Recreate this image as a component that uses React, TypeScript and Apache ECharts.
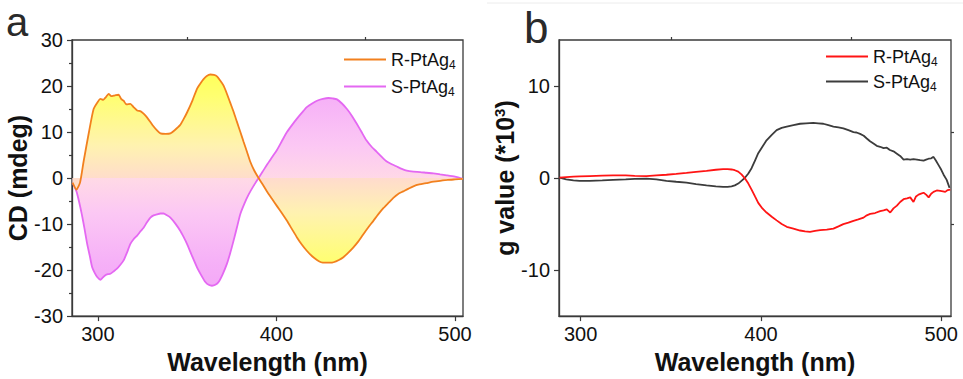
import React, { useEffect, useRef } from 'react';
import * as echarts from 'echarts';

// ---------- Panel a : CD spectra ----------
const cdWaveR = [285.8,288,290,292,295,297.6,300,301.4,303,304.5,306,307.5,308.8,310,311.6,313,314.4,316,318.2,320,322,324,325.6,327.5,329.4,331,333,335,338,340.6,343,346,348,350,353,355.5,357.5,359.2,361,363,365,366.7,368.5,370.4,372,374,376,377.9,379.8,381.6,383.5,385.3,387.5,390,392.5,394.7,397.5,400.3,403,405.9,408.7,411.5,414.3,417,420,422.7,425,427.3,430,432,435,437.5,440,443,446,448.7,451.5,454.3,457,460,463,465.5,468,471,474,476.7,480,484,488,491.7,496,500,504.4];
const cdR = [-1.0,-2.5,-1.0,3.6,10,15,16.6,17.2,17.0,17.6,18.3,17.8,17.9,18.0,18.1,17.2,16.8,16.0,16.1,15.4,14.7,14.5,14.0,13.2,12.2,11.3,10.4,9.7,9.6,9.7,10.4,11.5,12.8,14.3,16.9,19.4,20.6,21.5,22.2,22.5,22.4,22.1,21.2,20.1,18.6,16.5,14.4,12.2,10,7.9,5.7,3.6,1.7,0,-1.5,-2.9,-4.5,-6.1,-7.6,-9.3,-11.1,-12.9,-14.5,-15.8,-17.0,-17.8,-18.3,-18.4,-18.4,-18.3,-17.8,-17.2,-16.3,-15.1,-13.7,-12.2,-10.7,-9.3,-7.9,-6.5,-5.3,-4.3,-3.5,-2.9,-2.3,-1.8,-1.4,-1.1,-0.8,-0.6,-0.4,-0.3,-0.2];

const cdWaveS = [285.8,288,289.5,291,292.5,294,295.5,296.8,298.2,299.6,301.4,302.8,304.2,305.6,307,308.8,310.7,312.5,314.4,316.3,318.2,320,322,323.8,325.6,327.5,329.4,331.2,333.1,335,336.8,338.7,340.6,343.4,346.2,348,349.9,352.7,355.5,358,360.2,362,363.9,365.8,367.6,370,372.3,374.2,376,377.9,379.7,382,384.4,387.2,390,392.3,394.7,397.5,400.3,403,405.9,408.7,411.5,414.3,417,420,422.7,426,429.2,431.5,433.9,436.7,439.5,442.3,445,447.7,450.4,453.3,456.2,459,461.8,464.6,467.4,470.2,473,476.7,480.5,484,487.9,491.7,495.4,500,504.4];
const cdS = [-1.0,-2.9,-5.2,-7.9,-11,-14.3,-17,-19.4,-20.6,-21.5,-22.1,-21.6,-21.1,-20.9,-20.8,-20.3,-19.7,-18.9,-17.9,-16.2,-14.3,-13.3,-12.5,-11.6,-10.8,-9.6,-8.6,-8.1,-7.9,-7.7,-7.7,-8.1,-8.6,-9.9,-11.5,-12.8,-14.3,-16.9,-19.4,-21.2,-22.6,-23.2,-23.4,-23.2,-22.6,-20.8,-18.6,-16.2,-13.6,-10.7,-7.9,-5.6,-3.6,-1.7,0,1.4,2.9,4.5,6.1,8.0,10,11.5,12.9,14.2,15.4,16.2,16.8,17.2,17.4,17.3,17.1,16.2,15,13.5,11.8,10,8.2,6.8,5.7,4.6,3.6,3.0,2.5,2.0,1.6,1.4,1.3,1.15,1.0,0.8,0.6,0.3,-0.2];

// ---------- Panel b : g value ----------
const gWaveS = [288.3,292,296,299.4,305,312,318,325,330,336.5,342,347.6,353,358.7,364,369.8,375,379,381.5,383.7,385.5,387.4,389.2,391,393,394.8,396.7,398.5,400.8,403.1,406,408.7,411.5,414.3,418,421.7,425,429,431.8,434.6,437.4,440.2,443,445.7,448.5,451.3,453,455,457,458.7,460.5,462.4,464.2,466.1,468,469.8,471.5,473.5,475.4,477.2,479.1,481,482.8,484.6,486.5,488.3,490.2,491.6,493,494.4,495.7,497,498.5,500,501.3,503,504.6];
const gS = [0.05,-0.15,-0.25,-0.3,-0.3,-0.25,-0.2,-0.15,-0.1,-0.07,-0.15,-0.3,-0.4,-0.5,-0.65,-0.8,-0.9,-0.96,-0.95,-0.9,-0.8,-0.6,-0.3,0,0.5,1.07,1.9,2.7,3.4,4.1,4.7,5.2,5.45,5.6,5.75,5.9,5.95,6.0,5.95,5.9,5.75,5.6,5.5,5.4,5.2,5.0,4.95,4.8,4.6,4.3,4.0,3.75,3.5,3.4,3.25,3.3,3.05,2.9,2.65,2.4,2.0,2.05,2.0,2.05,2.0,1.95,1.9,2.0,2.1,2.15,2.3,1.9,1.4,0.9,0.36,-0.2,-1.07];

const gWaveR = [288.3,292,296,299.4,305,312,318,325,330,336.5,342,347.6,353,358.7,364,369.8,375,379,381.5,383.7,385.5,387.4,389.2,391,393,394.8,396.7,398.5,400.8,403.1,406,408.7,411.5,414.3,418,421.7,424.5,427.2,430,432.8,436.5,440.2,443,445.7,448.5,451.3,454,456.9,458.7,460.6,463.3,466.1,468,469.8,471.7,473.5,475.4,477.2,479.1,481,482.8,484.6,486,487.4,488.8,490.2,491.6,493,494.4,495.7,497.5,499.4,501,502.2,503.6,505];
const gR = [0.05,0.1,0.15,0.18,0.22,0.26,0.29,0.28,0.24,0.2,0.28,0.36,0.46,0.57,0.68,0.79,0.9,0.96,0.96,0.93,0.85,0.7,0.4,0,-0.6,-1.25,-2.0,-2.7,-3.3,-3.75,-4.2,-4.6,-5.0,-5.3,-5.5,-5.7,-5.8,-5.85,-5.75,-5.65,-5.6,-5.5,-5.25,-5.0,-4.85,-4.65,-4.5,-4.3,-4.05,-3.9,-3.8,-3.6,-3.5,-3.4,-3.75,-3.3,-3.0,-2.6,-2.3,-2.2,-2.1,-2.6,-2.0,-1.8,-1.7,-1.6,-1.8,-2.1,-1.7,-1.5,-1.35,-1.4,-1.45,-1.5,-1.3,-1.25];

const xLabelValues = [300, 400, 500];
const xMinorValues = [350, 450];
const gLabelValues = [-10, 0, 10];
const gMinorValues = [-5, 5];
const seriesNames = ['R-PtAg4', 'S-PtAg4'];

const zip = (xs: number[], ys: number[]) => xs.map((x, i) => [x, ys[i]]);

const FONT = 'Arial, "Liberation Sans", sans-serif';
const AXIS_COLOR = '#3a3a3a';

export default function App() {
  const ref = useRef<HTMLDivElement>(null);

  useEffect(() => {
    document.body.style.margin = '0';
    if (!ref.current) return;
    const chart = echarts.init(ref.current, null, { renderer: 'svg' });

    const gridTop = 40;
    const gridBottom = 319;

    const rGrad = new echarts.graphic.LinearGradient(0, gridTop, 0, gridBottom, [
      { offset: 0, color: '#FFFF3A' },
      { offset: 0.2, color: '#FFFF70' },
      { offset: 0.38, color: '#FFF2B0' },
      { offset: 0.5, color: '#FFDCCC' },
      { offset: 0.62, color: '#FFF2B0' },
      { offset: 0.8, color: '#FFFF70' },
      { offset: 1, color: '#FFFF3A' },
    ], true);
    const sGrad = new echarts.graphic.LinearGradient(0, gridTop, 0, gridBottom, [
      { offset: 0, color: '#EE8EF4' },
      { offset: 0.2, color: '#F4A2F6' },
      { offset: 0.38, color: '#FBBEF2' },
      { offset: 0.5, color: '#FFD2E2' },
      { offset: 0.62, color: '#FBBEF2' },
      { offset: 0.8, color: '#F4A2F6' },
      { offset: 1, color: '#EE8EF4' },
    ], true);

    const labelStyle = { fontFamily: FONT, fontSize: 20, color: '#111' };
    const nameStyle = { fontFamily: FONT, fontSize: 25, fontWeight: 'bold' as const, color: '#111' };
    const legendText = {
      fontFamily: FONT,
      fontSize: 18,
      lineHeight: 23,
      color: '#111',
      rich: { sub: { fontFamily: FONT, fontSize: 12, lineHeight: 12, color: '#111', verticalAlign: 'bottom' as const } },
    };
    const legendFormatter = (name: string) => (name.startsWith('R') ? 'R-PtAg{sub|4}' : 'S-PtAg{sub|4}');

    const xAxisBase = (gridIndex: number, min: number, max: number) => ({
      type: 'value' as const,
      gridIndex,
      min,
      max,
      name: 'Wavelength (nm)',
      nameLocation: 'middle' as const,
      nameGap: 32,
      nameTextStyle: nameStyle,
      axisLine: { show: true, onZero: false, lineStyle: { color: AXIS_COLOR, width: 1.3 } },
      axisTick: { show: true, length: 5, customValues: xLabelValues, lineStyle: { color: AXIS_COLOR, width: 1.2 } },
      axisLabel: { show: true, margin: 8, customValues: xLabelValues, ...labelStyle },
      splitLine: { show: false },
    });
    const xAxisMinor = (gridIndex: number, min: number, max: number) => ({
      type: 'value' as const,
      gridIndex,
      min,
      max,
      axisLine: { show: false, onZero: false },
      axisTick: { show: true, length: 3, customValues: xMinorValues, lineStyle: { color: AXIS_COLOR, width: 1.2 } },
      axisLabel: { show: false },
      splitLine: { show: false },
    });

    const option: any = {
      animation: false,
      backgroundColor: '#fff',
      grid: [
        { left: 72, top: gridTop, width: 391, height: gridBottom - gridTop, show: true, borderColor: AXIS_COLOR, borderWidth: 1.3, backgroundColor: 'transparent' },
        { left: 559, top: gridTop, width: 392, height: gridBottom - gridTop, show: true, borderColor: AXIS_COLOR, borderWidth: 1.3, backgroundColor: 'transparent' },
      ],
      xAxis: [
        xAxisBase(0, 285.5, 504.5),
        xAxisBase(1, 288, 505.4),
        xAxisMinor(0, 285.5, 504.5),
        xAxisMinor(1, 288, 505.4),
      ],
      yAxis: [
        {
          type: 'value',
          gridIndex: 0,
          min: -30,
          max: 30,
          interval: 10,
          name: 'CD (mdeg)',
          nameLocation: 'middle',
          nameGap: 40,
          nameTextStyle: nameStyle,
          axisLine: { show: true, onZero: false, lineStyle: { color: AXIS_COLOR, width: 1.3 } },
          axisTick: { show: true, length: 5, lineStyle: { color: AXIS_COLOR, width: 1.2 } },
          minorTick: { show: true, splitNumber: 2, length: 3, lineStyle: { color: AXIS_COLOR, width: 1.2 } },
          axisLabel: { margin: 9, ...labelStyle },
          splitLine: { show: false },
          minorSplitLine: { show: false },
        },
        {
          type: 'value',
          gridIndex: 1,
          min: -15,
          max: 15,
          interval: 5,
          name: 'g value (*10{sup|3})',
          nameLocation: 'middle',
          nameGap: 39,
          nameTextStyle: {
            ...nameStyle,
            rich: { sup: { fontFamily: FONT, fontSize: 15, fontWeight: 'bold', color: '#111', verticalAlign: 'top' } },
          },
          axisLine: { show: true, onZero: false, lineStyle: { color: AXIS_COLOR, width: 1.3 } },
          axisTick: { show: true, length: 5, customValues: gLabelValues, lineStyle: { color: AXIS_COLOR, width: 1.2 } },
          axisLabel: { margin: 9, customValues: gLabelValues, ...labelStyle },
          splitLine: { show: false },
        },
        {
          type: 'value',
          gridIndex: 1,
          min: -15,
          max: 15,
          interval: 5,
          axisLine: { show: false, onZero: false },
          axisTick: { show: true, length: 3, customValues: gMinorValues, lineStyle: { color: AXIS_COLOR, width: 1.2 } },
          axisLabel: { show: false },
          splitLine: { show: false },
        },
      ],
      legend: [
        {
          orient: 'vertical',
          left: 339,
          top: 43,
          itemWidth: 42,
          itemHeight: 2,
          itemGap: 4,
          icon: 'rect',
          selectedMode: false,
          data: [
            { name: seriesNames[0], itemStyle: { color: '#F2801E' } },
            { name: seriesNames[1], itemStyle: { color: '#E468F2' } },
          ],
          formatter: legendFormatter,
          textStyle: legendText,
        },
        {
          orient: 'vertical',
          left: 821,
          top: 40,
          itemWidth: 42,
          itemHeight: 2,
          itemGap: 2,
          icon: 'rect',
          selectedMode: false,
          data: [
            { name: seriesNames[0] + ' g', itemStyle: { color: '#FF1414' } },
            { name: seriesNames[1] + ' g', itemStyle: { color: '#3c3c3c' } },
          ],
          formatter: legendFormatter,
          textStyle: legendText,
        },
      ],
      series: [
        {
          type: 'line',
          name: seriesNames[0],
          xAxisIndex: 0,
          yAxisIndex: 0,
          data: zip(cdWaveR, cdR),
          showSymbol: false,
          symbol: 'none',
          smooth: 0.2,
          lineStyle: { color: '#F2801E', width: 1.8 },
          itemStyle: { color: '#F2801E' },
          areaStyle: { color: rGrad, opacity: 1 },
          z: 3,
        },
        {
          type: 'line',
          name: seriesNames[1],
          xAxisIndex: 0,
          yAxisIndex: 0,
          data: zip(cdWaveS, cdS),
          showSymbol: false,
          symbol: 'none',
          smooth: 0.2,
          lineStyle: { color: '#E468F2', width: 1.8 },
          itemStyle: { color: '#E468F2' },
          areaStyle: { color: sGrad, opacity: 0.85 },
          z: 2,
        },
        {
          type: 'line',
          name: seriesNames[0] + ' g',
          xAxisIndex: 1,
          yAxisIndex: 1,
          data: zip(gWaveR, gR),
          showSymbol: false,
          symbol: 'none',
          lineStyle: { color: '#FF1414', width: 1.8 },
          itemStyle: { color: '#FF1414' },
          z: 3,
        },
        {
          type: 'line',
          name: seriesNames[1] + ' g',
          xAxisIndex: 1,
          yAxisIndex: 1,
          data: zip(gWaveS, gS),
          showSymbol: false,
          symbol: 'none',
          lineStyle: { color: '#3c3c3c', width: 1.8 },
          itemStyle: { color: '#3c3c3c' },
          z: 2,
        },
      ],
      graphic: [
        { type: 'text', left: 6, top: 2, style: { text: 'a', fontFamily: FONT, fontSize: 40, lineHeight: 40, fill: '#2a2a2a' } },
        { type: 'text', left: 524, top: 5, style: { text: 'b', fontFamily: FONT, fontSize: 44, lineHeight: 36, fill: '#2a2a2a' } },
        { type: 'line', shape: { x1: 487, y1: 3, x2: 963, y2: 3 }, style: { stroke: '#ececec', lineWidth: 1 } },
      ],
    };

    chart.setOption(option);
    return () => chart.dispose();
  }, []);

  return <div ref={ref} style={{ width: 963, height: 379 }} />;
}
